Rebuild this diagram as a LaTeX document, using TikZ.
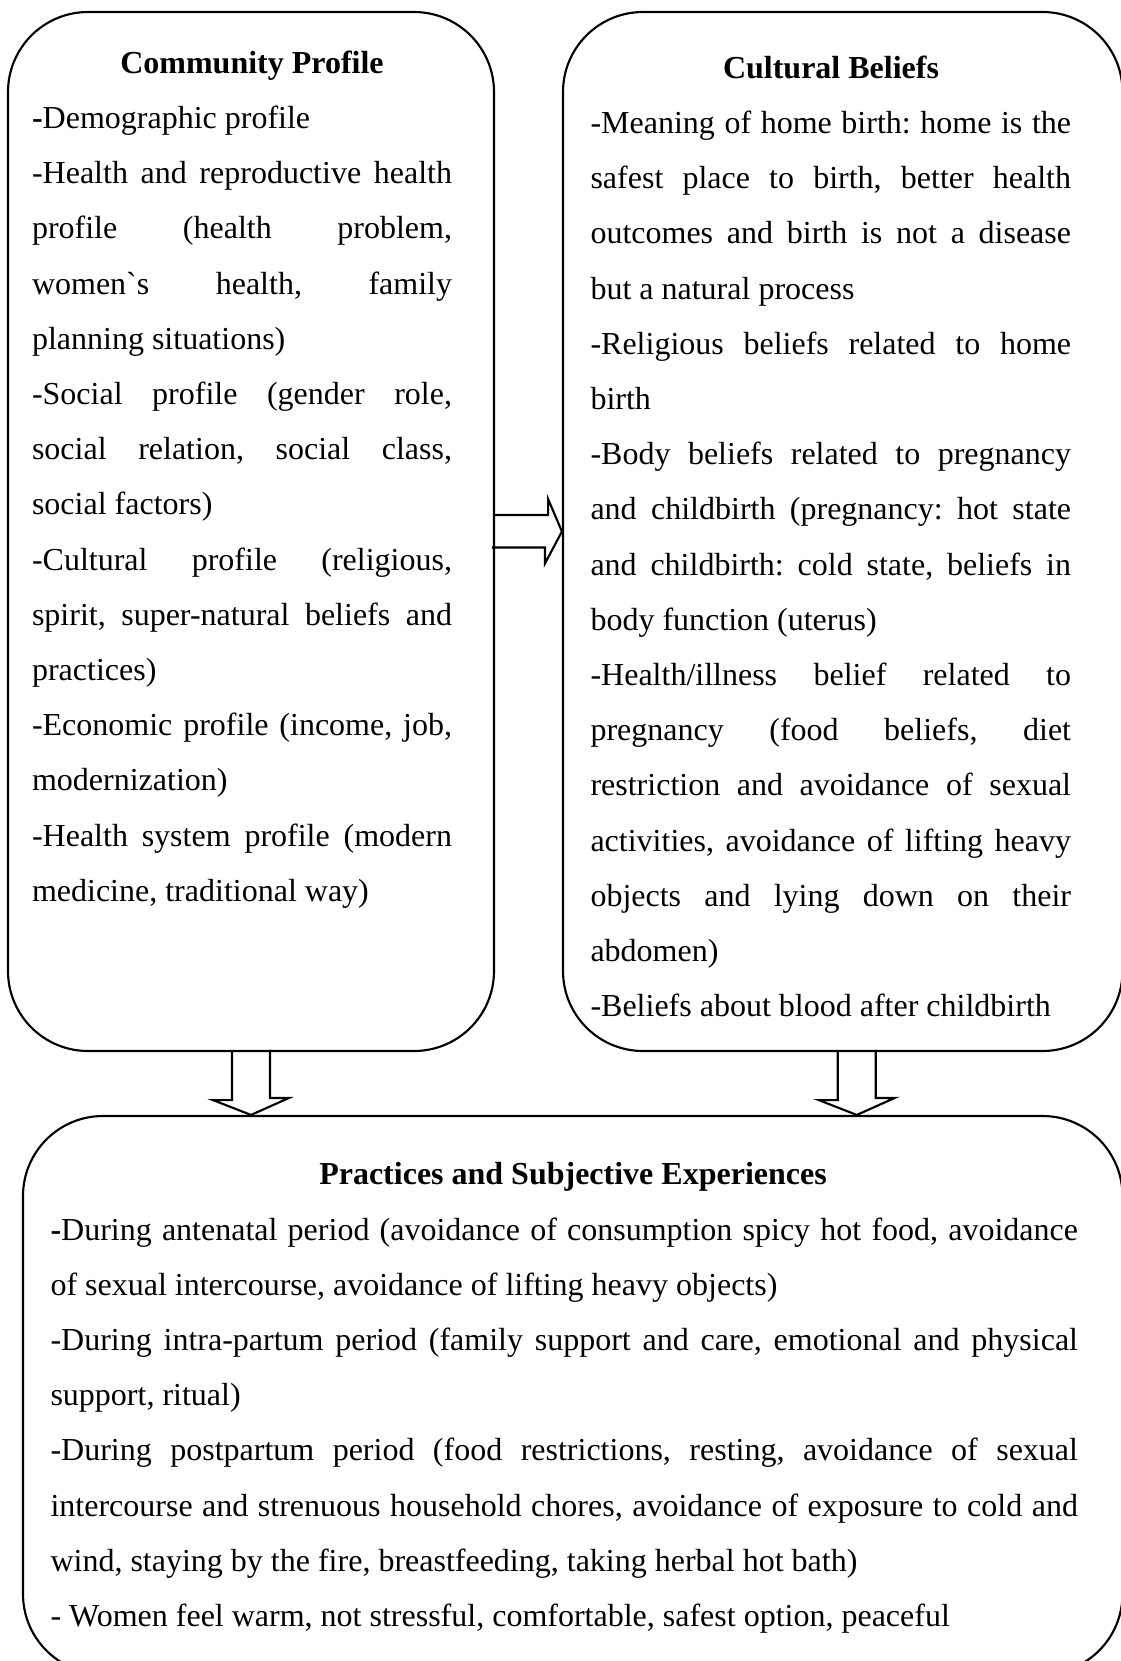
\documentclass[tikz,border=0pt]{standalone}
\usepackage{fontspec}
\setmainfont{Liberation Serif}
\usetikzlibrary{calc,fit}

\newcommand{\jl}[1]{{\spaceskip=0pt\xspaceskip=0pt\makebox[\linewidth][s]{#1}}}

\begin{document}
\frenchspacing
\begin{tikzpicture}[
    x=0.375pt,y=-0.375pt,
    panel/.style={draw=black, line width=0.8pt, rounded corners=30pt, inner sep=0pt},
    head/.style={font=\fontsize{12pt}{20.7pt}\selectfont\bfseries, anchor=base, inner sep=0pt},
    body/.style={font=\fontsize{12pt}{20.7pt}\selectfont, anchor=base west, inner sep=0pt, align=justify},
    blockarrow/.style={draw=black, line width=0.8pt, line join=miter}
  ]
    \useasboundingbox[fill=white] (0,0) rectangle (1121,1661);

    \node[panel, fit={(8,12) (494,1051)}] (cp) {};
    \node[panel, fit={(563,12) (1122.5,1051)}] (cb) {};
    \node[panel, fit={(23,1116) (1122.5,1674)}] (pr) {};

    \node[head] (cptitle) at (252,73.5) {Community Profile};
    \node[body, text width=157.5pt] (cptext) at (31.5,128.5) {%
      \textbf{-}Demographic profile\\
      \jl{-Health and reproductive health}\\
      \jl{profile (health problem,}\\
      \jl{women\textasciigrave s health, family}\\
      planning situations)\\
      \jl{-Social profile (gender role,}\\
      \jl{social relation, social class,}\\
      social factors)\\
      \jl{-Cultural profile (religious,}\\
      \jl{spirit, super-natural beliefs and}\\
      practices)\\
      \jl{-Economic profile (income, job,}\\
      modernization)\\
      \jl{-Health system profile (modern}\\
      medicine, traditional way)};

    \node[head] (cbtitle) at (831,78.5) {Cultural Beliefs};
    \node[body, text width=180.2pt] (cbtext) at (590,133.5) {%
      \jl{-Meaning of home birth: home is the}\\
      \jl{safest place to birth, better health}\\
      \jl{outcomes and birth is not a disease}\\
      but a natural process\\
      \jl{-Religious beliefs related to home}\\
      birth\\
      \jl{-Body beliefs related to pregnancy}\\
      \jl{and childbirth (pregnancy: hot state}\\
      \jl{and childbirth: cold state, beliefs in}\\
      body function (uterus)\\
      \jl{-Health/illness belief related to}\\
      \jl{pregnancy (food beliefs, diet}\\
      \jl{restriction and avoidance of sexual}\\
      \jl{activities, avoidance of lifting heavy}\\
      \jl{objects and lying down on their}\\
      abdomen)\\
      -Beliefs about blood after childbirth};

    \node[head] (prtitle) at (573,1184.5) {Practices and Subjective Experiences};
    \node[body, text width=385.3pt] (prtext) at (50,1240) {%
      \jl{\textbf{-}During antenatal period (avoidance of consumption spicy hot food, avoidance}\\
      of sexual intercourse, avoidance of lifting heavy objects)\\
      \jl{-During intra-partum period (family support and care, emotional and physical}\\
      support, ritual)\\
      \jl{-During postpartum period (food restrictions, resting, avoidance of sexual}\\
      \jl{intercourse and strenuous household chores, avoidance of exposure to cold and}\\
      wind, staying by the fire, breastfeeding, taking herbal hot bath)\\
      - Women feel warm, not stressful, comfortable, safest option, peaceful};

    \coordinate (cbdown) at ($(cb.south)+(14,0)$);

    \draw[blockarrow] ($(cp.east)+(0,-16.5)$) -- ++(53,0) -- ++(0,-16) -- (cb.west)
      -- ++(-17,32) -- ++(0,-16) -- ++(-53,0);
    \draw[blockarrow] ($(cp.south)+(-19,0)$) -- ++(0,48) -- ++(-19,0) -- (cp.south |- pr.north)
      -- ++(38,-17) -- ++(-19,0) -- ++(0,-48);
    \draw[blockarrow] ($(cbdown)+(-19,0)$) -- ++(0,48) -- ++(-19,0) -- (cbdown |- pr.north)
      -- ++(38,-17) -- ++(-19,0) -- ++(0,-48);
\end{tikzpicture}
\end{document}
